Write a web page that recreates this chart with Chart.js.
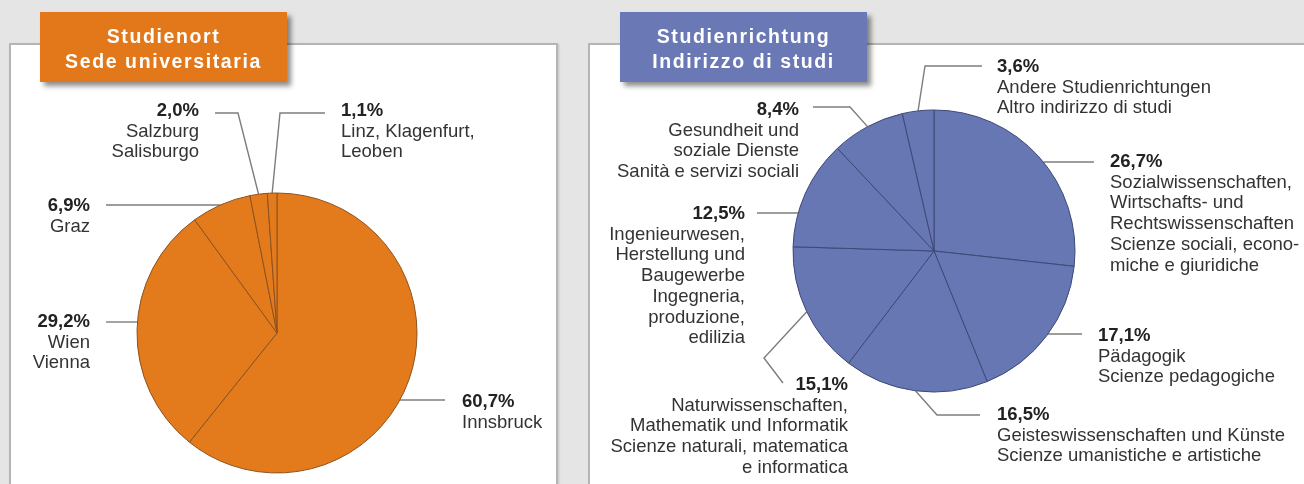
<!DOCTYPE html>
<html>
<head>
<meta charset="utf-8">
<script src="https://cdn.jsdelivr.net/npm/chart.js@4"></script>
<style>
body{margin:0;width:1304px;height:484px;background:#e5e5e5;position:relative;overflow:hidden;font-family:"Liberation Sans",Arial,sans-serif;}
.panel{position:absolute;top:43px;background:#fff;border:2px solid #b5b5b5;box-shadow:1px 1px 2px rgba(0,0,0,.15);}
#p1{left:9px;width:545px;height:460px;}
#p2{left:588px;width:730px;height:460px;}
.title{position:absolute;top:12px;width:247px;height:70px;color:#fff;font-weight:bold;font-size:19.5px;letter-spacing:1.6px;line-height:25px;text-align:center;box-sizing:border-box;padding-top:12px;box-shadow:4px 4px 5px rgba(0,0,0,.45);}
#t1{left:40px;background:#e2781a;}
#t2{left:620px;background:#6a79b5;}
canvas{position:absolute;left:0;top:0;}
.lbl{position:absolute;font-size:18.5px;line-height:20.7px;color:#333;white-space:nowrap;}
.lbl b{color:#222;}
</style>
</head>
<body>
<div class="panel" id="p1"></div>
<div class="panel" id="p2"></div>
<canvas id="c1" width="1304" height="484"></canvas>
<canvas id="c2" width="1304" height="484"></canvas>
<div class="title" id="t1">Studienort<br>Sede universitaria</div>
<div class="title" id="t2">Studienrichtung<br>Indirizzo di studi</div>
<div id="labels"></div>
<script>
// Studienort
var ortLabels = ['Innsbruck', 'Wien', 'Graz', 'Salzburg', 'Linz, Klagenfurt, Leoben'];
var ortValues = [60.7, 29.2, 6.9, 2.0, 1.1];
var ortText = [
  ['Innsbruck'],
  ['Wien', 'Vienna'],
  ['Graz'],
  ['Salzburg', 'Salisburgo'],
  ['Linz, Klagenfurt,', 'Leoben']
];

// Studienrichtung
var richtLabels = ['Sozialwissenschaften', 'Pädagogik', 'Geisteswissenschaften', 'Naturwissenschaften', 'Ingenieurwesen', 'Gesundheit', 'Andere'];
var richtValues = [26.7, 17.1, 16.5, 15.1, 12.5, 8.4, 3.6];
var richtText = [
  ['Sozialwissenschaften,', 'Wirtschafts- und', 'Rechtswissenschaften', 'Scienze sociali, econo-', 'miche e giuridiche'],
  ['Pädagogik', 'Scienze pedagogiche'],
  ['Geisteswissenschaften und Künste', 'Scienze umanistiche e artistiche'],
  ['Naturwissenschaften,', 'Mathematik und Informatik', 'Scienze naturali, matematica', 'e informatica'],
  ['Ingenieurwesen,', 'Herstellung und', 'Baugewerbe', 'Ingegneria,', 'produzione,', 'edilizia'],
  ['Gesundheit und', 'soziale Dienste', 'Sanità e servizi sociali'],
  ['Andere Studienrichtungen', 'Altro indirizzo di studi']
];

// label placement + leader lines (page coords)
var ortPos = [
  {x: 462, top: 391, align: 'left', pts: [[445, 400]], end: 'h'},
  {x: 90, top: 311, align: 'right', pts: [[106, 322]], end: 'h'},
  {x: 90, top: 195, align: 'right', pts: [[106, 205]], end: 'h'},
  {x: 199, top: 100, align: 'right', pts: [[215, 113], [238, 113]], end: 'mid'},
  {x: 341, top: 100, align: 'left', pts: [[325, 113], [280, 113]], end: 'mid'}
];
var richtPos = [
  {x: 1110, top: 151, align: 'left', pts: [[1094, 162]], end: 'h'},
  {x: 1098, top: 325, align: 'left', pts: [[1082, 334]], end: 'h'},
  {x: 997, top: 404, align: 'left', pts: [[980, 415], [937, 415]], end: 'mid'},
  {x: 848, top: 374, align: 'right', pts: [[783, 383], [764, 358]], end: 'mid'},
  {x: 745, top: 203, align: 'right', pts: [[757, 213]], end: 'h'},
  {x: 799, top: 99, align: 'right', pts: [[813, 107], [850, 107]], end: 'mid'},
  {x: 997, top: 56, align: 'left', pts: [[982, 66], [925, 66]], end: 'mid'}
];

function fmt(v) {
  return v.toFixed(1).replace('.', ',') + '%';
}

var leaderPlugin = {
  id: 'leaders',
  beforeDatasetsDraw: function(chart, args, opts) {
    var ctx = chart.ctx;
    var arcs = chart.getDatasetMeta(0).data;
    ctx.save();
    ctx.strokeStyle = '#7d7d7d';
    ctx.lineWidth = 1.4;
    opts.pos.forEach(function(p, i) {
      var a = arcs[i];
      var r = a.outerRadius;
      var end;
      var last = p.pts[p.pts.length - 1];
      if (p.end === 'h') {
        var dy = last[1] - a.y;
        var dx = Math.sqrt(r * r - dy * dy);
        end = [p.pts[0][0] < a.x ? a.x - dx : a.x + dx, last[1]];
      } else {
        var m = (a.startAngle + a.endAngle) / 2;
        end = [a.x + r * Math.cos(m), a.y + r * Math.sin(m)];
      }
      ctx.beginPath();
      ctx.moveTo(p.pts[0][0], p.pts[0][1]);
      for (var k = 1; k < p.pts.length; k++) ctx.lineTo(p.pts[k][0], p.pts[k][1]);
      ctx.lineTo(end[0], end[1]);
      ctx.stroke();
    });
    ctx.restore();
  }
};

function makePie(id, labels, values, color, border, pad, radius, pos) {
  new Chart(document.getElementById(id), {
    type: 'pie',
    data: {
      labels: labels,
      datasets: [{
        data: values,
        backgroundColor: color,
        borderColor: border,
        borderWidth: 1
      }]
    },
    options: {
      responsive: false,
      animation: false,
      radius: radius,
      layout: {padding: pad},
      plugins: {
        legend: {display: false},
        tooltip: {enabled: false},
        leaders: {pos: pos}
      }
    },
    plugins: [leaderPlugin]
  });
}

function addLabels(values, text, pos) {
  var box = document.getElementById('labels');
  pos.forEach(function(p, i) {
    var d = document.createElement('div');
    d.className = 'lbl';
    d.style.top = p.top + 'px';
    d.style.textAlign = p.align;
    if (p.align === 'left') d.style.left = p.x + 'px';
    else d.style.right = (1304 - p.x) + 'px';
    d.innerHTML = '<b>' + fmt(values[i]) + '</b><br>' + text[i].join('<br>');
    box.appendChild(d);
  });
}

makePie('c1', ortLabels, ortValues, '#e37a1b', '#8c5220',
  {left: 137, right: 887, top: 193, bottom: 11}, 140, ortPos);
makePie('c2', richtLabels, richtValues, '#6677b4', '#3e4877',
  {left: 793, right: 229, top: 110, bottom: 92}, 141, richtPos);
addLabels(ortValues, ortText, ortPos);
addLabels(richtValues, richtText, richtPos);
</script>
</body>
</html>
